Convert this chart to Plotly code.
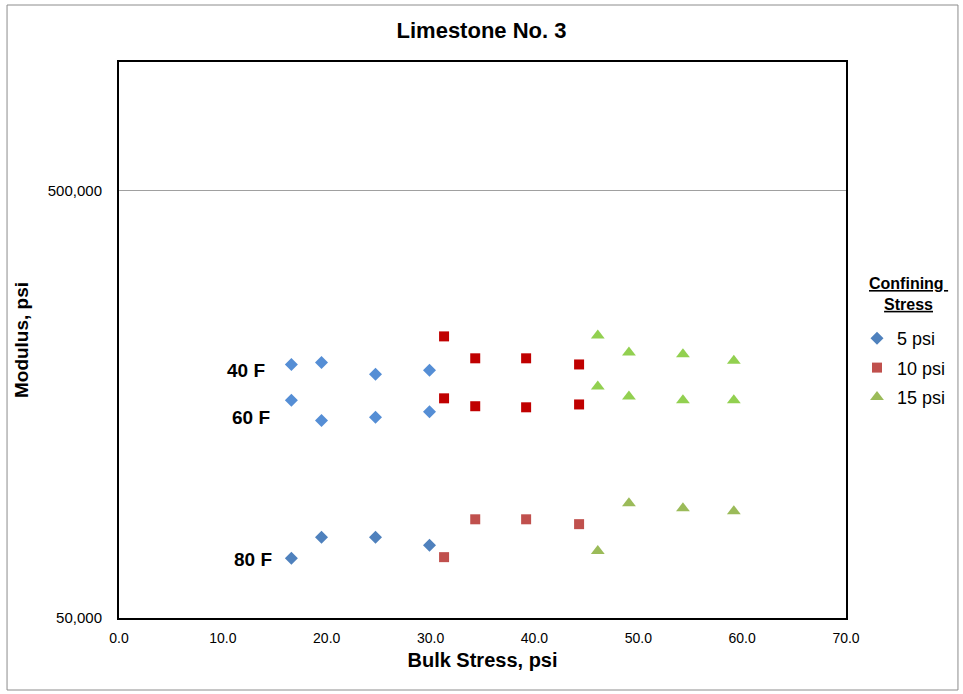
import math
import plotly.graph_objects as go

# Bulk stress (psi) per confining stress level
x_5psi = [16.6, 19.5, 24.7, 29.9]
x_10psi = [31.3, 34.3, 39.2, 44.3]
x_15psi = [46.1, 49.1, 54.3, 59.2]

# Modulus (psi) by temperature
mod_40F_5 = [196000, 198000, 186000, 190000]
mod_40F_10 = [228000, 202600, 202600, 196000]
mod_40F_15 = [229000, 209000, 207000, 200000]

mod_60F_5 = [161600, 145000, 147400, 152000]
mod_60F_10 = [163300, 156500, 155600, 158000]
mod_60F_15 = [174000, 165000, 161600, 161600]

mod_80F_5 = [69000, 77300, 77300, 74000]
mod_80F_10 = [69400, 85100, 85100, 82900]
mod_80F_15 = [71700, 92800, 90300, 88900]

legend_names = ["5 psi", "10 psi", "15 psi"]
temp_labels = ["40 F", "60 F", "80 F"]
temp_label_x = [12.2, 12.7, 12.9]
temp_label_y = [189900, 147400, 68700]

symbols = ["diamond", "square", "triangle-up"]
sizes = [10, 10, 12]
colors_light = ["#558ED5", "#C00000", "#92D050"]
colors_dark = ["#4F81BD", "#C0504D", "#9BBB59"]

FONT = "Liberation Sans, Arial, sans-serif"

fig = go.Figure()

xs = [x_5psi, x_10psi, x_15psi]
sets = [
    ([mod_40F_5, mod_40F_10, mod_40F_15], colors_light),
    ([mod_60F_5, mod_60F_10, mod_60F_15], colors_light),
]
for ys, cols in sets:
    for i in range(3):
        fig.add_trace(go.Scatter(
            x=xs[i], y=ys[i], mode="markers", showlegend=False,
            marker=dict(symbol=symbols[i], size=sizes[i], color=cols[i]),
        ))

ys80 = [mod_80F_5, mod_80F_10, mod_80F_15]
for i in range(3):
    fig.add_trace(go.Scatter(
        x=xs[i], y=ys80[i], mode="markers", name=legend_names[i],
        legendgroup=legend_names[i],
        marker=dict(symbol=symbols[i], size=sizes[i], color=colors_dark[i]),
    ))

for t, tx, ty in zip(temp_labels, temp_label_x, temp_label_y):
    fig.add_annotation(x=tx, y=math.log10(ty), yref="y", xref="x",
                       text="<b>%s</b>" % t, showarrow=False,
                       font=dict(size=19, color="black"),
                       xanchor="center", yanchor="middle")

fig.add_annotation(xref="paper", yref="paper", x=(909 - 119) / 727,
                   y=(618 - 294) / 556,
                   text="<b><u>Confining </u></b><br><b><u>Stress</u></b>",
                   showarrow=False, font=dict(size=16, color="black"),
                   xanchor="center", yanchor="middle", align="center")

# outer chart border
fig.add_shape(type="rect", xref="paper", yref="paper",
              x0=-0.154, x1=1.154, y0=-0.1295, y1=1.1025,
              line=dict(color="#8C8C8C", width=1), layer="below")

fig.update_layout(
    width=963, height=694,
    margin=dict(l=119, r=117, t=62, b=76),
    paper_bgcolor="white", plot_bgcolor="white",
    font=dict(family=FONT, color="black"),
    title=dict(text="<b>Limestone No. 3</b>", x=0.5, xanchor="center",
               y=1 - 30 / 694, yanchor="middle", font=dict(size=22)),
    legend=dict(x=(857 - 119) / 727, y=(618 - 320) / 556,
                xanchor="left", yanchor="top",
                font=dict(size=18), itemwidth=30, tracegroupgap=3,
                borderwidth=0, bgcolor="rgba(0,0,0,0)"),
    xaxis=dict(range=[0, 70], dtick=10, tick0=0, tickformat=".1f",
               showgrid=False, zeroline=False, showline=True, mirror=True,
               linecolor="black", linewidth=2, ticks="",
               tickfont=dict(size=14), ticklabelstandoff=6,
               title=dict(text="<b>Bulk Stress, psi</b>", font=dict(size=20),
                          standoff=8)),
    yaxis=dict(type="log", range=[math.log10(50000), 6.0],
               tickvals=[50000, 500000], ticktext=["50,000", "500,000"],
               showgrid=True, gridcolor="#A0A0A0", gridwidth=1,
               zeroline=False, showline=True, mirror=True,
               linecolor="black", linewidth=2, ticks="",
               tickfont=dict(size=15), ticklabelstandoff=12,
               title=dict(text="<b>Modulus, psi</b>", font=dict(size=19),
                          standoff=14)),
)

fig.write_html("out.html")
